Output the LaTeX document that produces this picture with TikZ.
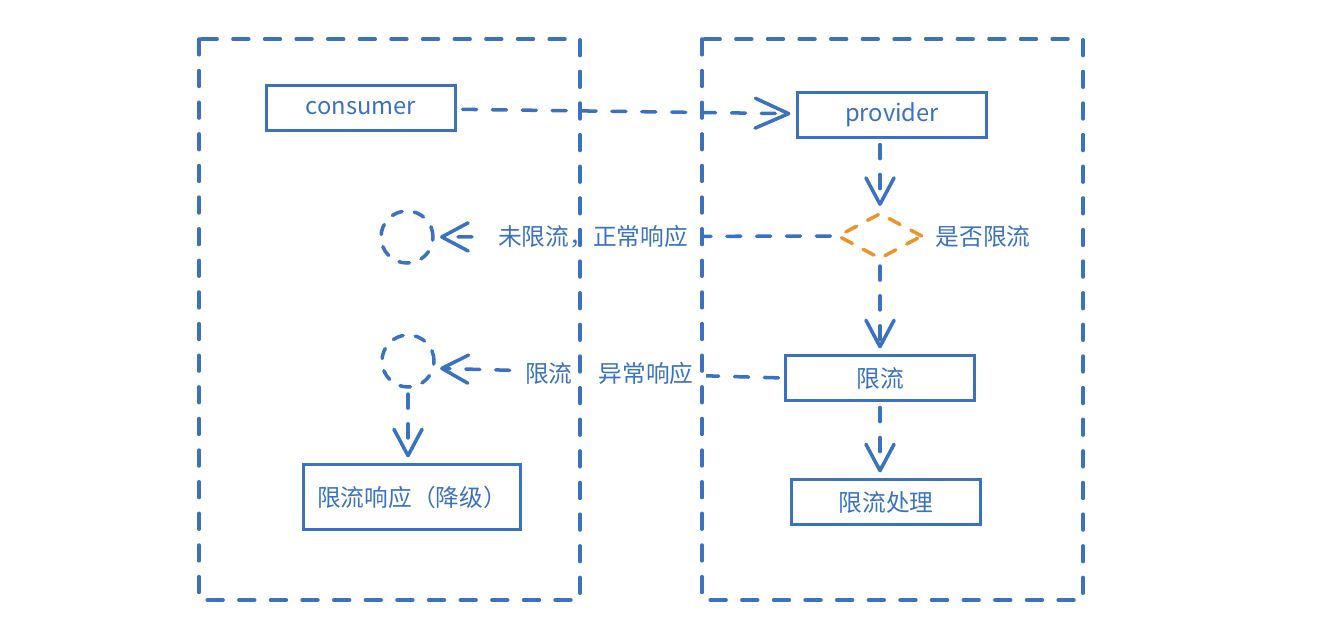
\documentclass[tikz,border=0pt]{standalone}
\usepackage{fontspec}
\setmainfont{Noto Sans CJK SC}
\usetikzlibrary{shapes.geometric,arrows.meta,positioning}
\definecolor{sketchblue}{HTML}{3A72C0}
\definecolor{sketchorange}{HTML}{E8952E}

\begin{document}
\begin{tikzpicture}[x=0.02cm, y=-0.02cm, font=\fontsize{13.5}{16}\selectfont, text=sketchblue]
  % styles
  \tikzset{
   box/.style={
           rectangle,
           draw=sketchblue,
           line width=2.1pt,
           minimum width=3.78cm,
           minimum height=0.9cm,
           text centered},
   ring/.style={
           circle,
           draw=sketchblue,
           line width=2pt,
           dash pattern=on 6pt off 7pt,
           line cap=round,
           minimum size=1.04cm,
           inner sep=0pt},
   check/.style={
           diamond,
           draw=sketchorange,
           line width=2pt,
           dash pattern=on 7pt off 7pt,
           line cap=round,
           minimum width=1.7cm,
           minimum height=0.92cm,
           inner sep=0pt},
   % dashed connector
   arrow/.style={
           -{Straight Barb[length=15pt,width=16pt,round]},
           draw=sketchblue,
           line width=2pt,
           dash pattern=on 8pt off 9pt,
           line cap=round,
           shorten <=3pt,
           shorten >=3pt},
   frame/.style={
           draw=sketchblue,
           line width=2pt,
           dash pattern=on 9pt off 9pt,
           line cap=round},
   tag/.style={fill=white, inner xsep=7pt, inner ysep=2pt}
  }
  \useasboundingbox (0,0) rectangle (1342,626);

  % consumer side
  \node[box] (consumer) at (361,108) {consumer};
  \node[ring] (ringok) at (407,237) {};
  \node[ring] (ringlimit) at (408,361) {};
  \node[box, minimum width=4.34cm, minimum height=1.3cm] (fallback) at (412,497) {限流响应（降级）};

  % provider side
  \node[box] (provider) at (892,115) {provider};
  \node[check] (decide) at (880,236) {};
  \node[right=3pt of decide] (decidetext) {是否限流};
  \node[box] (limit) at (880,378) {限流};
  \node[box] (handle) at (886,502) {限流处理};

  % connectors
  \draw[arrow, -{Straight Barb[length=19pt,width=17pt,round]}] (consumer)--(provider);
  \draw[arrow] (decide |- provider.south)--(decide.north);
  \draw[arrow] (decide.west)--(ringok.east)
      node[tag, pos=0.605] (oktext) {未限流，正常响应};
  \draw[arrow] (decide.south)--(decide |- limit.north);
  \draw[arrow] (limit.west)--(ringlimit.-15)
      node[tag, pos=0.5] (limittext) {限流\hspace{1.1em}异常响应};
  \draw[arrow] (ringlimit.south)--(ringlimit |- fallback.north);
  \draw[arrow] (limit.south)--(limit |- handle.north);

  % containers
  \draw[frame] (199,39) rectangle (580,600);
  \draw[frame] (702,39) rectangle (1083,600);
\end{tikzpicture}
\end{document}
